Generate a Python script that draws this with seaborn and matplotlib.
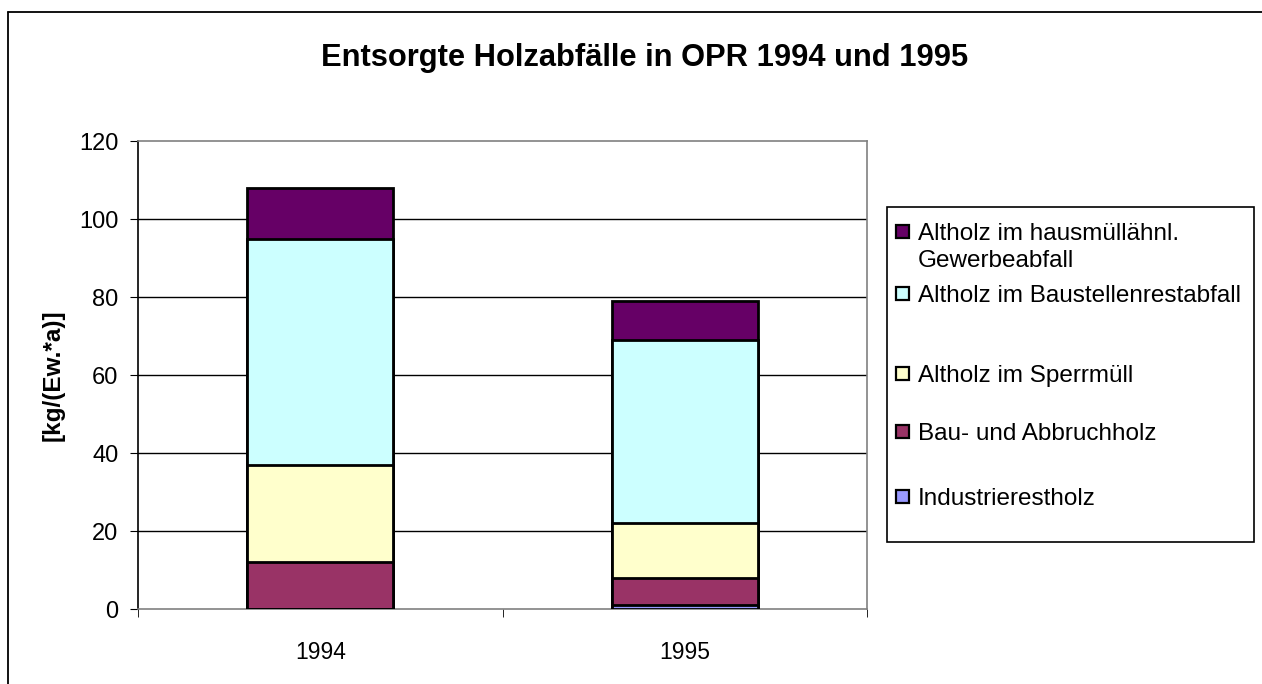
import numpy as np
import pandas as pd
import matplotlib
matplotlib.use("Agg")
import matplotlib.pyplot as plt
import matplotlib.patches as mpatches
from matplotlib.lines import Line2D
import seaborn as sns

# data (kg per inhabitant and year)
years = ["1994", "1995"]
categories = [
    "Industrierestholz",
    "Bau- und Abbruchholz",
    "Altholz im Sperrmüll",
    "Altholz im Baustellenrestabfall",
    "Altholz im hausmüllähnl.\nGewerbeabfall",
]
industrie = [0, 1]
bau_abbruch = [12, 7]
sperrmuell = [25, 14]
baustellen = [58, 47]
gewerbe = [13, 10]
colors = ["#9999FF", "#993366", "#FFFFCC", "#CCFFFF", "#660066"]

series = [industrie, bau_abbruch, sperrmuell, baustellen, gewerbe]
df = pd.DataFrame({"year": years})
for cat, vals in zip(categories, series):
    df[cat] = vals
# cumulative totals, drawn tallest first so smaller ones sit in front
cum = df[categories].cumsum(axis=1)
cum["year"] = df["year"]

sns.set_style("white")
plt.rcParams["font.family"] = ["Liberation Sans", "DejaVu Sans"]
plt.rcParams["text.color"] = "black"
plt.rcParams["xtick.color"] = "black"
plt.rcParams["ytick.color"] = "black"
plt.rcParams["xtick.labelcolor"] = "black"
plt.rcParams["ytick.labelcolor"] = "black"

W, H = 1262, 684
fig = plt.figure(figsize=(W / 100, H / 100), dpi=100)
ax = fig.add_axes([138 / W, 1 - 609 / H, (867 - 138) / W, (609 - 141) / H])

for cat, col in reversed(list(zip(categories, colors))):
    sns.barplot(data=cum, x="year", y=cat, color=col, width=0.4,
                edgecolor="black", linewidth=2, saturation=1, ax=ax, zorder=3)

ax.set_ylim(0, 120)
ax.set_xlim(-0.5, 1.5)
ax.set_yticks(range(0, 121, 20))
ax.tick_params(axis="y", labelsize=17, length=6, direction="out", left=True, pad=8,
               colors="black")
ax.tick_params(axis="x", which="major", labelsize=16.5, length=0, pad=23, colors="black")
ax.set_xticks([-0.5, 0.5, 1.5], minor=True)
ax.tick_params(axis="x", which="minor", length=6, direction="out", bottom=True, colors="black")
for y in range(20, 101, 20):
    ax.axhline(y, color="black", lw=1, zorder=1)
ax.spines["left"].set_color("black")
ax.spines["bottom"].set_color("#808080")
ax.spines["top"].set_color("#808080")
ax.spines["right"].set_color("#808080")
for s in ax.spines.values():
    s.set_linewidth(1.2)
ax.set_xlabel("")
ax.set_ylabel("")

fig.text(53 / W, 1 - 375 / H, "[kg/(Ew.*a)]", rotation=90, fontsize=17.5,
         fontweight="bold", ha="center", va="center", color="black")
fig.text(645 / W, 1 - 58 / H, "Entsorgte Holzabfälle in OPR 1994 und 1995",
         fontsize=22.2, fontweight="bold", ha="center", va="center", color="black")

# outer chart frame (runs off the picture on the right and bottom)
fig.add_artist(Line2D([8 / W, 1.01], [1 - 12 / H, 1 - 12 / H], transform=fig.transFigure,
                      color="black", lw=1.3))
fig.add_artist(Line2D([8 / W, 8 / W], [1 - 12 / H, -0.01], transform=fig.transFigure,
                      color="black", lw=1.3))

# legend box, entries laid out like the original (uneven spacing)
fig.add_artist(mpatches.Rectangle((887 / W, 1 - 542 / H), (1254 - 887) / W, (542 - 207) / H,
                                  transform=fig.transFigure, facecolor="white",
                                  edgecolor="black", lw=1.2, zorder=0))
baselines = [505, 440, 382, 302, 240]
for cat, col, base in zip(categories, colors, baselines):
    fig.add_artist(mpatches.Rectangle((896 / W, 1 - (base - 2) / H), 13 / W, 13 / H,
                                      transform=fig.transFigure, facecolor=col,
                                      edgecolor="black", lw=1.6))
    for i, line in enumerate(cat.split("\n")):
        fig.text(918 / W, 1 - (base + 27 * i) / H, line, fontsize=17.5,
                 ha="left", va="baseline", color="black")

fig.savefig("out.png", dpi=100)
